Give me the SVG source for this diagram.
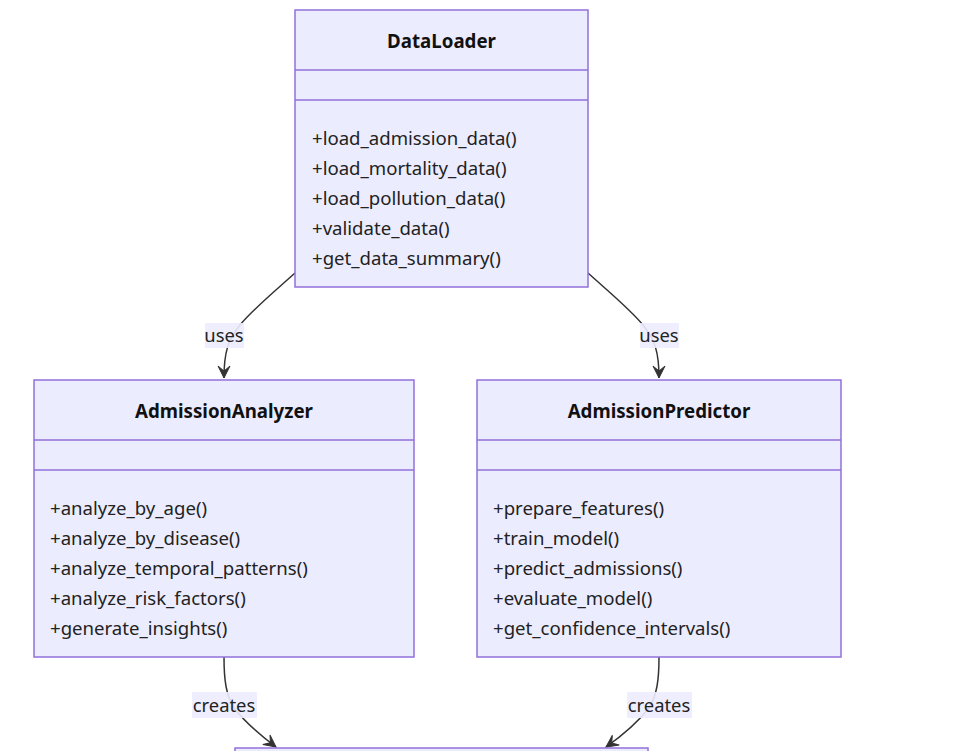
<svg xmlns="http://www.w3.org/2000/svg" width="957" height="751" viewBox="0 0 957 751">
<defs>
<style>
.box{fill:#ECECFF;stroke:#9370DB;stroke-width:1.5}
.div{stroke:#9370DB;stroke-width:1.5}
.title{font-family:"Noto Sans","Open Sans",sans-serif;font-size:18.7px;font-weight:bold;fill:#111;text-anchor:middle}
.m{font-family:"Noto Sans","Open Sans",sans-serif;font-size:18.6px;fill:#222}
.edge{fill:none;stroke:#333;stroke-width:1.5}
.lbg{fill:#ECECFF;opacity:0.9}
.lbl{font-family:"Noto Sans","Open Sans",sans-serif;font-size:18.4px;fill:#222;text-anchor:middle}
</style>
<marker id="arr" viewBox="0 0 20 14" refX="18" refY="7" markerWidth="20" markerHeight="14" markerUnits="userSpaceOnUse" orient="auto">
<path d="M18,7 L6,13 L11,7 L6,1 Z" fill="#333" stroke="#333" stroke-width="1"/>
</marker>
</defs>
<rect width="957" height="751" fill="#fff"/>
<g id="connectors">
<path class="edge" d="M295,273 C275,291 252,310 240,325 C228,340 224,352 224,378" marker-end="url(#arr)"/>
<path class="edge" d="M588,273 C608,291 631,310 643,325 C655,340 659,352 659,378" marker-end="url(#arr)"/>
<path class="edge" d="M224,657 C224,680 226,695 234,708 C245,722 260,735 276,747" marker-end="url(#arr)"/>
<path class="edge" d="M659,657 C659,680 657,695 649,708 C638,722 623,735 606,747" marker-end="url(#arr)"/>
<rect class="lbg" x="205" y="323" width="39" height="25"/>
<text class="lbl" x="224" y="342">uses</text>
<rect class="lbg" x="640" y="323" width="39" height="25"/>
<text class="lbl" x="659" y="342">uses</text>
<rect class="lbg" x="192" y="692" width="65" height="26"/>
<text class="lbl" x="224" y="712">creates</text>
<rect class="lbg" x="627" y="692" width="65" height="26"/>
<text class="lbl" x="659" y="712">creates</text>
</g>
<g id="DataLoader">
<rect class="box" x="295" y="10" width="293" height="277"/>
<line class="div" x1="295" y1="70" x2="588" y2="70"/>
<line class="div" x1="295" y1="100" x2="588" y2="100"/>
<text class="title" x="441.5" y="48">DataLoader</text>
<text class="m" x="312" y="145">+load_admission_data()</text>
<text class="m" x="312" y="175">+load_mortality_data()</text>
<text class="m" x="312" y="205">+load_pollution_data()</text>
<text class="m" x="312" y="235">+validate_data()</text>
<text class="m" x="312" y="265">+get_data_summary()</text>
</g>
<g id="AdmissionAnalyzer">
<rect class="box" x="34" y="380" width="380" height="277"/>
<line class="div" x1="34" y1="440" x2="414" y2="440"/>
<line class="div" x1="34" y1="470" x2="414" y2="470"/>
<text class="title" x="224" y="418">AdmissionAnalyzer</text>
<text class="m" x="50" y="515">+analyze_by_age()</text>
<text class="m" x="50" y="545">+analyze_by_disease()</text>
<text class="m" x="50" y="575">+analyze_temporal_patterns()</text>
<text class="m" x="50" y="605">+analyze_risk_factors()</text>
<text class="m" x="50" y="635">+generate_insights()</text>
</g>
<g id="AdmissionPredictor">
<rect class="box" x="477" y="380" width="364" height="277"/>
<line class="div" x1="477" y1="440" x2="841" y2="440"/>
<line class="div" x1="477" y1="470" x2="841" y2="470"/>
<text class="title" x="659" y="418">AdmissionPredictor</text>
<text class="m" x="493" y="515">+prepare_features()</text>
<text class="m" x="493" y="545">+train_model()</text>
<text class="m" x="493" y="575">+predict_admissions()</text>
<text class="m" x="493" y="605">+evaluate_model()</text>
<text class="m" x="493" y="635">+get_confidence_intervals()</text>
</g>
<g id="BottomNode">
<rect class="box" x="235" y="748" width="413" height="40"/>
</g>
</svg>
